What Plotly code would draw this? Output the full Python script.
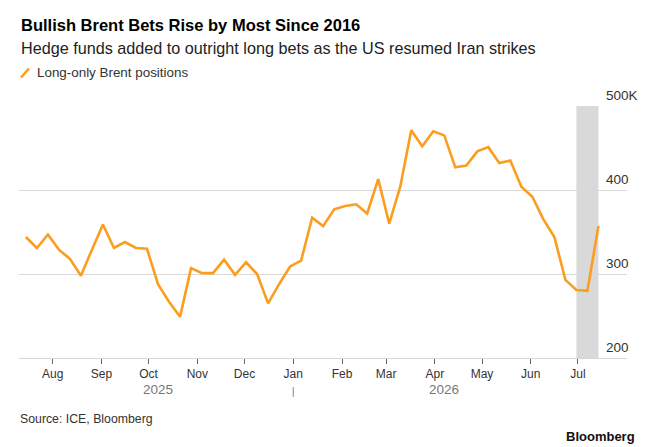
import plotly.graph_objects as go

# weekly ICE positioning, long-only Brent (thousands of contracts)
dates = [
    "2025-07-15", "2025-07-22", "2025-07-29",
    "2025-08-05", "2025-08-12", "2025-08-19", "2025-08-26",
    "2025-09-02", "2025-09-09", "2025-09-16", "2025-09-23", "2025-09-30",
    "2025-10-07", "2025-10-14", "2025-10-21", "2025-10-28",
    "2025-11-04", "2025-11-11", "2025-11-18", "2025-11-25",
    "2025-12-02", "2025-12-09", "2025-12-16", "2025-12-23", "2025-12-30",
    "2026-01-06", "2026-01-13", "2026-01-20", "2026-01-27",
    "2026-02-03", "2026-02-10", "2026-02-17", "2026-02-24",
    "2026-03-03", "2026-03-10", "2026-03-17", "2026-03-24", "2026-03-31",
    "2026-04-07", "2026-04-14", "2026-04-21", "2026-04-28",
    "2026-05-05", "2026-05-12", "2026-05-19", "2026-05-26",
    "2026-06-02", "2026-06-09", "2026-06-16", "2026-06-23", "2026-06-30",
    "2026-07-07", "2026-07-14",
]
long_only = [
    344, 331, 347, 329, 318, 298, 329, 359, 331, 338,
    331, 330, 288, 267, 249, 307, 301, 301, 317, 299,
    314, 300, 265, 288, 309, 316, 367, 357, 377, 381,
    383, 372, 413, 360, 404, 471, 452, 470, 465, 427,
    429, 446, 451, 432, 435, 404, 392, 365, 344, 293,
    281, 280, 357,
]

month_ticks = ["2025-08-01", "2025-09-01", "2025-10-01", "2025-11-01", "2025-12-01",
               "2026-01-01", "2026-02-01", "2026-03-01", "2026-04-01", "2026-05-01",
               "2026-06-01", "2026-07-01"]
month_labels = ["Aug", "Sep", "Oct", "Nov", "Dec", "Jan", "Feb", "Mar", "Apr", "May", "Jun", "Jul"]

y_ticks = [200, 300, 400, 500]
y_labels = ["200", "300", "400", "500K"]

years = ["2025", "2026"]
year_pos = ["2025-10-07", "2026-04-07"]

shade_start = "2026-06-30"
shade_end = "2026-07-14"

FONT = "Liberation Sans, Arial, sans-serif"
ORANGE = "#fb9d1f"

# plot area in page pixels: x 19..627, y 106..358
L, R, T, B = 19, 627, 106, 358
W, H = 650, 447


def px(x):
    return (x - L) / (R - L)


def py(y):
    return (B - y) / (B - T)


fig = go.Figure()
fig.add_trace(go.Scatter(x=dates, y=long_only, mode="lines",
                         line=dict(color=ORANGE, width=2.6),
                         name="Long-only Brent positions", showlegend=False,
                         hoverinfo="skip"))

fig.add_vrect(x0=shade_start, x1=shade_end, fillcolor="#d9d9d9", opacity=1,
              line_width=0, layer="below")

# year separator under Jan
fig.add_shape(type="line", xref="x", yref="paper", x0="2026-01-01", x1="2026-01-01",
              y0=py(387), y1=py(397), line=dict(color="#888", width=1))

# legend swatch
fig.add_shape(type="line", xref="paper", yref="paper", x0=px(21), x1=px(29),
              y0=py(77.5), y1=py(68.5), line=dict(color=ORANGE, width=2.6))

ann = []
for v, t in zip(y_ticks, y_labels):
    ann.append(dict(x=px(604), y=v, xref="paper", yref="y", text=t, showarrow=False,
                    xanchor="left", yanchor="bottom", yshift=1,
                    font=dict(family=FONT, size=13.5, color="#333")))
for d, t in zip(year_pos, years):
    ann.append(dict(x=d, y=py(389), xref="x", yref="paper", text=t, showarrow=False,
                    xanchor="center", yanchor="middle",
                    font=dict(family=FONT, size=13.5, color="#777")))

ann += [
    dict(x=px(19), y=py(25), xref="paper", yref="paper", showarrow=False,
         text="<b>Bullish Brent Bets Rise by Most Since 2016</b>", xanchor="left",
         yanchor="middle", font=dict(family=FONT, size=16.5, color="#000")),
    dict(x=px(19), y=py(48), xref="paper", yref="paper", showarrow=False,
         text="Hedge funds added to outright long bets as the US resumed Iran strikes",
         xanchor="left", yanchor="middle", font=dict(family=FONT, size=16.2, color="#222")),
    dict(x=px(35), y=py(72), xref="paper", yref="paper", showarrow=False,
         text="Long-only Brent positions", xanchor="left", yanchor="middle",
         font=dict(family=FONT, size=13.4, color="#333")),
    dict(x=px(18), y=py(419), xref="paper", yref="paper", showarrow=False,
         text="Source: ICE, Bloomberg", xanchor="left", yanchor="middle",
         font=dict(family=FONT, size=12.3, color="#333")),
    dict(x=px(637), y=py(436), xref="paper", yref="paper", showarrow=False,
         text="<b>Bloomberg</b>", xanchor="right", yanchor="middle",
         font=dict(family=FONT, size=13, color="#111")),
]

fig.update_layout(
    width=W, height=H, autosize=False,
    margin=dict(l=L, r=W - R, t=T, b=H - B, pad=0),
    paper_bgcolor="white", plot_bgcolor="white",
    font=dict(family=FONT, size=12, color="#333"),
    annotations=ann,
    hovermode=False,
    xaxis=dict(type="date", range=["2025-07-10 15:00", "2026-08-01 04:00"],
               tickvals=month_ticks, ticktext=month_labels,
               ticks="outside", ticklen=5, tickwidth=1, tickcolor="#666",
               showline=True, linecolor="#d6d6d6", linewidth=1,
               showgrid=False, zeroline=False,
               tickfont=dict(family=FONT, size=12, color="#333")),
    yaxis=dict(range=[200, 500], tickvals=y_ticks, showticklabels=False,
               showgrid=True, gridcolor="#d9d9d9", gridwidth=1,
               zeroline=False, showline=False, ticks=""),
)

# drop the browser's default body margin so the figure sits at the page corner
fig.write_html("out.html", config={"displayModeBar": False},
               post_script="document.body.style.margin = '0';")
